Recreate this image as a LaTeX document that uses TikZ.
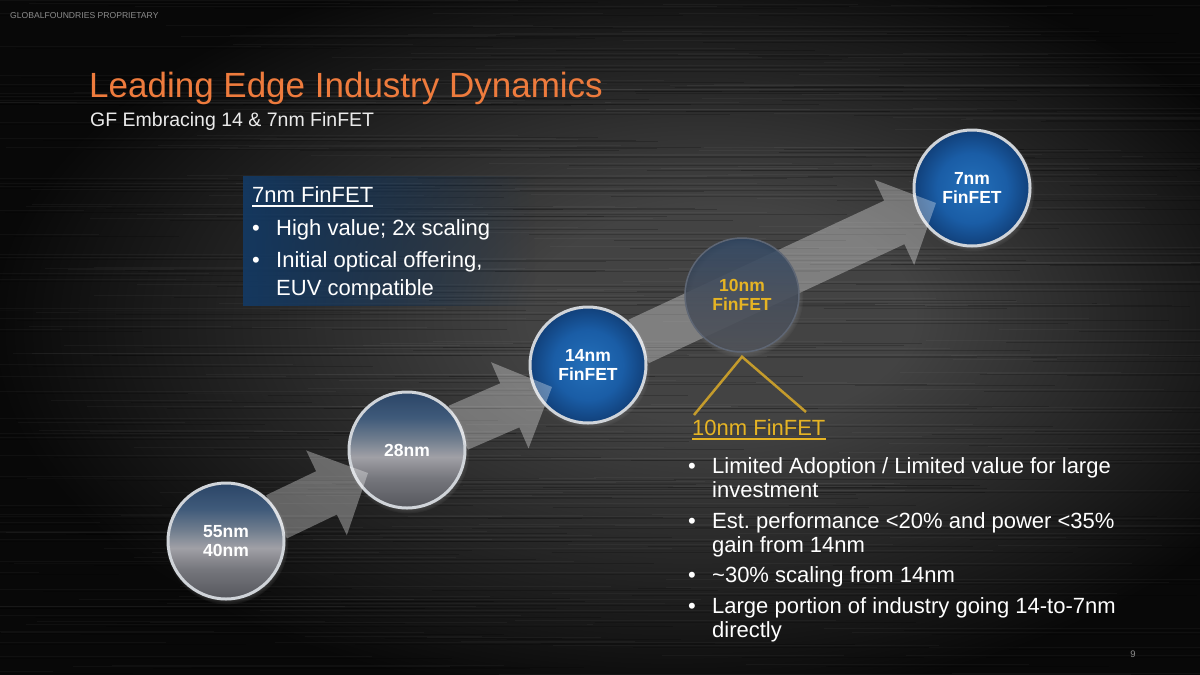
\documentclass[tikz,border=0pt]{standalone}
\usepackage{fontspec}
\setmainfont{Liberation Sans}
\usetikzlibrary{positioning,calc,fadings,shadows}

\definecolor{slideorange}{HTML}{EE7B3D}
\definecolor{gfgold}{HTML}{E6B424}
\definecolor{gfline}{HTML}{C49B2C}
\definecolor{boxblue}{HTML}{143962}
\definecolor{ringgrey}{HTML}{D0D4D9}
\definecolor{tenring}{HTML}{5E6674}
\definecolor{pagegrey}{HTML}{8C8C8C}
\definecolor{bgmid}{HTML}{434343}
\definecolor{bgedge}{HTML}{080808}
% ball colours
\definecolor{gb0}{HTML}{55565C}
\definecolor{gb1}{HTML}{76777D}
\definecolor{gb2}{HTML}{A0A0A6}
\definecolor{gb3}{HTML}{6E7C8D}
\definecolor{gb4}{HTML}{3F5A7A}
\definecolor{gb5}{HTML}{2B4567}
\definecolor{bb0}{HTML}{2470BA}
\definecolor{bb1}{HTML}{1A5DA6}
\definecolor{bb2}{HTML}{11407A}
\definecolor{tb0}{HTML}{4A4D54}
\definecolor{tb1}{HTML}{3E4756}
\definecolor{tb2}{HTML}{2B4463}

\pgfdeclareverticalshading{greyball}{100bp}{color(0bp)=(gb0); color(25bp)=(gb0); color(38bp)=(gb1); color(47bp)=(gb2); color(55bp)=(gb3); color(64bp)=(gb4); color(75bp)=(gb5); color(100bp)=(gb5)}
\pgfdeclareradialshading{blueball}{\pgfpoint{0bp}{0bp}}{color(0bp)=(bb0); color(15bp)=(bb1); color(25bp)=(bb2); color(50bp)=(bb2)}
\pgfdeclareverticalshading{tenball}{100bp}{color(0bp)=(tb0); color(25bp)=(tb0); color(50bp)=(tb1); color(75bp)=(tb2); color(100bp)=(tb2)}
\pgfdeclareradialshading{metal}{\pgfpoint{6bp}{2bp}}{color(0bp)=(bgmid); color(8bp)=(bgmid); color(28bp)=(bgedge); color(50bp)=(bgedge)}
\tikzfading[name=boxfade, left color=transparent!0, middle color=transparent!15, right color=transparent!100]

% wide translucent arrow from a ball to a tip coordinate
\newcommand\fatarrow[2]{%
  \path ($(#1.center)!56pt!(#2)$) coordinate (ft)
        ($(#2)!46pt!(#1.center)$) coordinate (fh);
  \fill[flow] ($(ft)!24pt!90:(#2)$) -- ($(fh)!24pt!90:(#2)$) -- ($(fh)!47pt!90:(#2)$)
    -- (#2) -- ($(fh)!47pt!-90:(#2)$) -- ($(fh)!24pt!-90:(#2)$) -- ($(ft)!24pt!-90:(#2)$) -- cycle;
}

\begin{document}
\frenchspacing
\begin{tikzpicture}[x=1pt, y=-1pt,
  every node/.style={inner sep=0pt},
  txt/.style={anchor=base west, text=white, font=\fontsize{22}{24}\selectfont},
  ball/.style={circle, minimum size=116pt, draw=ringgrey, line width=3pt, align=center, text=white,
    font=\bfseries\fontsize{17.5}{19}\selectfont,
    circular drop shadow={shadow xshift=1pt, shadow yshift=-2pt, shadow scale=1.06, opacity=0.6}},
  greyb/.style={ball, shade, shading=greyball},
  blueb/.style={ball, shade, shading=blueball},
  flow/.style={fill=white, fill opacity=0.32},
  gold/.style={draw=gfline, line width=2.5pt},
  uline/.style={line width=1.6pt},
  streak/.style={line width=0.5pt}
]
% Background
\useasboundingbox (0,0) rectangle (1200,675);
\shade[shading=metal] (0,0) rectangle (1200,675);
\begin{scope}
  \clip (0,0) rectangle (1200,675);
  \pgfmathsetseed{7}
  \foreach \k in {1,...,300}{
    \pgfmathsetmacro\sy{rnd*675}
    \pgfmathsetmacro\sx{rnd*1200-200}
    \pgfmathsetmacro\sl{150+rnd*500}
    \draw[streak, white, opacity=0.035] (\sx,\sy) -- ++(\sl,0);
    \draw[streak, black, opacity=0.18] (\sx+80,\sy+2) -- ++(\sl,0);
  }
\end{scope}

% Header
\node[anchor=base west, text=pagegrey, font=\fontsize{8.6}{10}\selectfont] (conf) at (10,18) {GLOBALFOUNDRIES PROPRIETARY};
\node[anchor=base west, text=slideorange, font=\fontsize{35}{40}\selectfont] (title) at (89,97) {Leading Edge Industry Dynamics};
\node[anchor=base west, text=white!92!black, font=\fontsize{19.5}{22}\selectfont] (subtitle) at (90,126) {GF Embracing 14 \& 7nm FinFET};

% 7nm info box
\fill[boxblue, fill opacity=0.95, path fading=boxfade] (243,176) rectangle (535,306);
\node[txt] (hd7) at (252,202) {7nm FinFET};
\draw[uline, white] ($(hd7.base west)+(0,4)$) -- ($(hd7.base east)+(0,4)$);
\node[txt] (lb1) at (252,235) {\makebox[24pt][l]{\textbullet}High value; 2x scaling};
\node[txt] (lb2) at (252,267) {\makebox[24pt][l]{\textbullet}Initial optical offering,};
\node[txt] (lb3) at ($(lb2.base west)+(24,28)$) {EUV compatible};

% Node balls
\node[greyb] (c1) at (226,541) {55nm\\40nm};
\node[greyb] (c2) at (407,450) {28nm};
\node[blueb] (c3) at (588,365) {14nm\\FinFET};
\node[blueb] (c5) at (972,188) {7nm\\FinFET};

% Arrow tips
\coordinate (t1) at ($(c2.center)+(-39,23)$);
\coordinate (t2) at ($(c3.center)+(-36,22)$);
\coordinate (t3) at ($(c5.center)+(-36,15)$);
\fatarrow{c1}{t1}
\fatarrow{c2}{t2}
\fatarrow{c3}{t3}

% 10nm ball sits over the long arrow
\node[ball, shade, shading=tenball, draw=tenring, line width=1.5pt, minimum size=114pt,
  fill opacity=0.8, text opacity=1, text=gfgold] (c4) at (742,295) {10nm\\FinFET};

% 10nm callout
\coordinate (apex) at ($(c4.south)+(0,4)$);
\coordinate (gl) at (694,415);
\coordinate (gr) at (806,412);
\draw[gold] (gl) -- (apex) -- (gr);
\node[txt, text=gfgold] (hd10) at (692,435) {10nm FinFET};
\draw[uline, gfgold] ($(hd10.base west)+(0,4)$) -- ($(hd10.base east)+(0,4)$);
\node[txt] (rb1) at (688,473) {\makebox[24pt][l]{\textbullet}Limited Adoption / Limited value for large};
\node[txt] (rb2) at (712,497) {investment};
\node[txt] (rb3) at (688,528) {\makebox[24pt][l]{\textbullet}Est. performance <20\% and power <35\%};
\node[txt] (rb4) at (712,552) {gain from 14nm};
\node[txt] (rb5) at (688,582) {\makebox[24pt][l]{\textbullet}\textasciitilde 30\% scaling from 14nm};
\node[txt] (rb6) at (688,613) {\makebox[24pt][l]{\textbullet}Large portion of industry going 14-to-7nm};
\node[txt] (rb7) at (712,637) {directly};

% Page number
\node[text=pagegrey, font=\fontsize{9.5}{11}\selectfont] (pgno) at (1133,654) {9};
\end{tikzpicture}
\end{document}
